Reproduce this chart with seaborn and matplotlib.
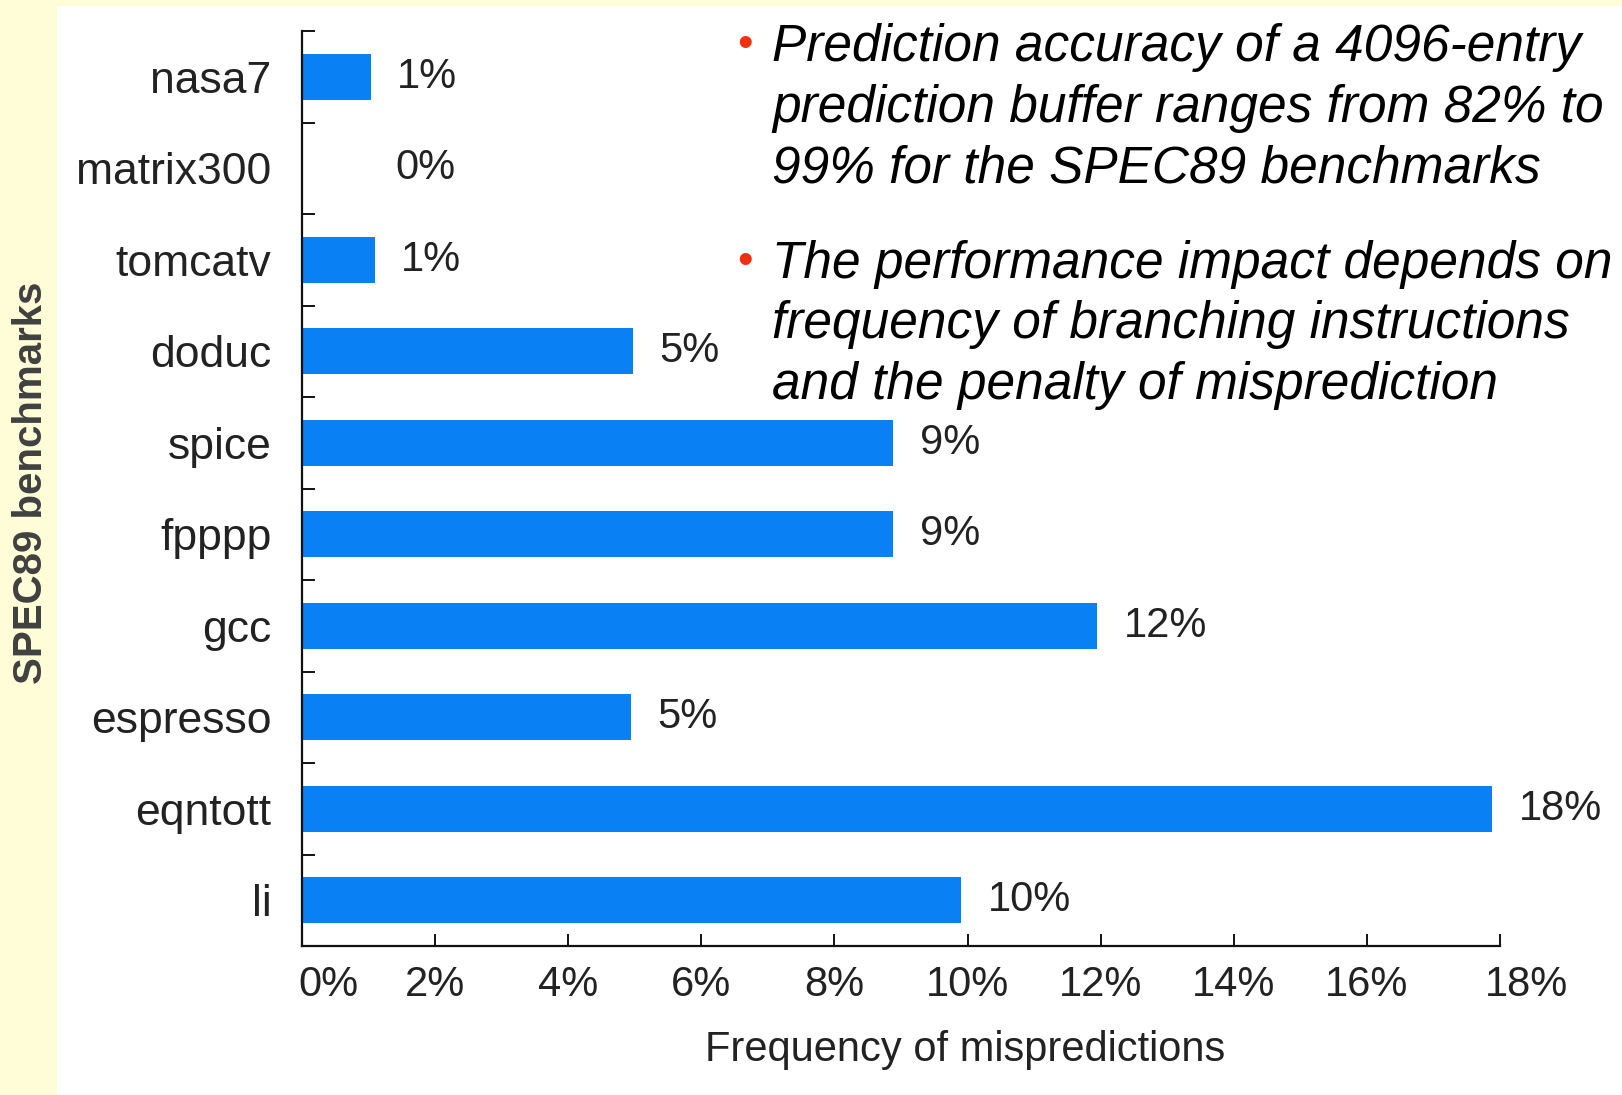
import matplotlib
matplotlib.use("Agg")
import matplotlib.pyplot as plt
import matplotlib.transforms as mtransforms
from matplotlib.patches import Rectangle
from matplotlib.ticker import FixedLocator, FuncFormatter
import seaborn as sns
import pandas as pd

# ---- data ----
benchmarks = ["nasa7", "matrix300", "tomcatv", "doduc", "spice",
              "fpppp", "gcc", "espresso", "eqntott", "li"]
mispredict_pct = [1.03, 0.0, 1.09, 4.97, 8.88, 8.88, 11.95, 4.94, 17.88, 9.9]
value_labels = ["1%", "0%", "1%", "5%", "9%", "9%", "12%", "5%", "18%", "10%"]
x_ticks = [0, 2, 4, 6, 8, 10, 12, 14, 16, 18]
x_label = "Frequency of mispredictions"
y_label = "SPEC89 benchmarks"
bullets = [
    ["Prediction accuracy of a 4096-entry",
     "prediction buffer ranges from 82% to",
     "99% for the SPEC89 benchmarks"],
    ["The performance impact depends on",
     "frequency of branching instructions",
     "and the penalty of misprediction"],
]

df = pd.DataFrame({"benchmark": benchmarks, "pct": mispredict_pct})

sns.set_theme(style="white")
plt.rcParams["font.family"] = ["Liberation Sans", "DejaVu Sans"]

BLUE = "#0A80F5"
YELLOW = "#FFFDD8"
TXT = "#222222"

fig = plt.figure(figsize=(16.22, 10.95), dpi=100)
fig.patch.set_facecolor(YELLOW)
fig.patches.append(Rectangle((57 / 1622, 0), 1 - 57 / 1622, 1 - 6 / 1095,
                             transform=fig.transFigure, facecolor="white",
                             edgecolor="none", zorder=-10))

ax = fig.add_axes([302 / 1622, 1 - 946 / 1095, (1500 - 302) / 1622, (946 - 31) / 1095])
ax.set_facecolor("none")
ax.set_zorder(5)

sns.barplot(data=df, y="benchmark", x="pct", orient="h", color=BLUE,
            saturation=1, width=0.5, ax=ax, edgecolor="none")

ax.set_xlim(0, 18)
ax.set_ylim(len(benchmarks) - 0.5, -0.5)

for sp in ["top", "right"]:
    ax.spines[sp].set_visible(False)
for sp in ["left", "bottom"]:
    ax.spines[sp].set_color("#111111")
    ax.spines[sp].set_linewidth(1.6)

# y ticks: labels at categories, tick marks at boundaries
ax.set_yticks(range(len(benchmarks)))
ax.set_yticklabels(benchmarks)
ax.yaxis.set_minor_locator(FixedLocator([i - 0.5 for i in range(len(benchmarks) + 1)]))
ax.tick_params(axis="y", which="major", length=0, pad=22, labelsize=32, labelcolor=TXT)
ax.tick_params(axis="y", which="minor", direction="in", length=9, width=1.4,
               color="#111111", left=True)

ax.set_xticks(x_ticks)
ax.xaxis.set_major_formatter(FuncFormatter(lambda v, p: f"{int(v)}%"))
ax.tick_params(axis="x", direction="in", length=9, width=1.4, color="#111111",
               pad=14, labelsize=30, labelcolor=TXT, bottom=True)

# shift edge tick labels like reference
tl = ax.get_xticklabels()
tl[0].set_transform(tl[0].get_transform() + mtransforms.ScaledTranslation(26 / 100, 0, fig.dpi_scale_trans))
tl[-1].set_transform(tl[-1].get_transform() + mtransforms.ScaledTranslation(27 / 100, 0, fig.dpi_scale_trans))

ax.set_xlabel(x_label, fontsize=30, color=TXT)
ax.xaxis.set_label_coords((965 - 302) / (1500 - 302), -(1050 - 946) / (946 - 31), transform=ax.transAxes)
ax.xaxis.label.set_va("center")
ax.set_ylabel("")

# value labels
for i, (v, lab) in enumerate(zip(mispredict_pct, value_labels)):
    ax.text(max(v, 1.0) + 0.4, i, lab, va="center", ha="left",
            fontsize=30, color=TXT)

# y label on the yellow strip
fig.text(31 / 1622, 1 - 483 / 1095, y_label, rotation=90, ha="center", va="center",
         fontsize=29, fontweight="bold", color="#404040")

# bullet text
line_h = 60.5
y0 = 48
starts = [y0, y0 + 3 * line_h + 35]
for block, ys in zip(bullets, starts):
    fig.text(745 / 1622, 1 - (ys - 2) / 1095, "•", color="#F03010", fontsize=32,
             ha="center", va="center")
    for k, line in enumerate(block):
        fig.text(772 / 1622, 1 - (ys + k * line_h) / 1095, line, fontsize=37,
                 fontstyle="italic", color="black", ha="left", va="center")

fig.savefig("out.png", dpi=100, facecolor=fig.get_facecolor())
